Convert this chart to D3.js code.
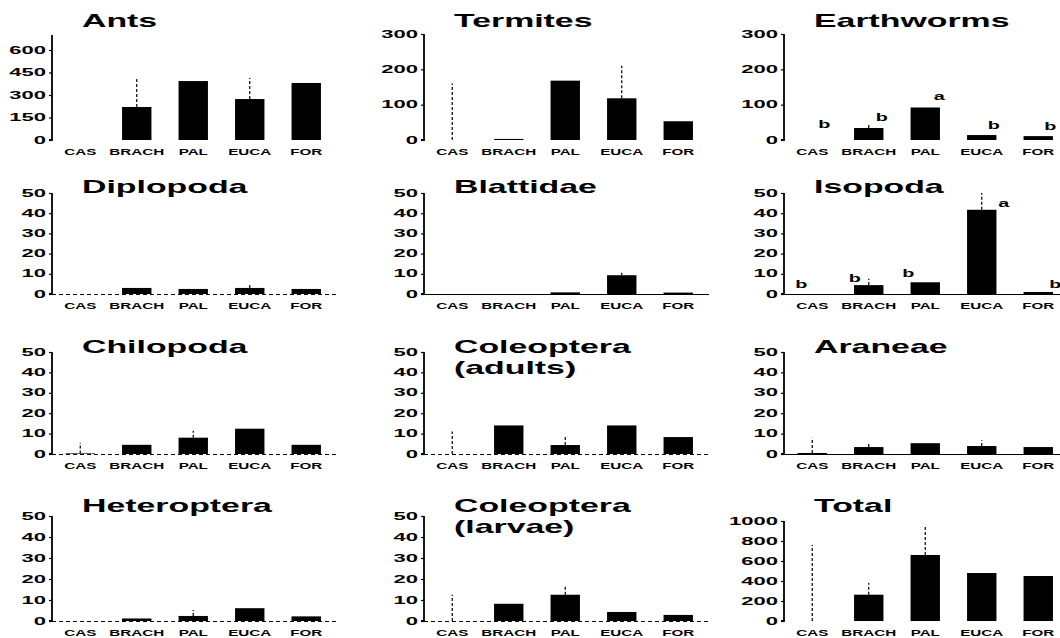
<!DOCTYPE html>
<html>
<head>
<meta charset="utf-8">
<script src="https://cdn.jsdelivr.net/npm/d3@7/dist/d3.min.js"></script>
<style>
  html, body { margin: 0; padding: 0; background: #fff; }
  svg { display: block; }
  text { font-family: "Liberation Sans", Arial, Helvetica, sans-serif; font-weight: bold; fill: #000; }
</style>
</head>
<body>
<svg id="chart" width="1060" height="638"></svg>
<script>
// ---------- DATA ----------
const categories = ["CAS", "BRACH", "PAL", "EUCA", "FOR"];

const panelTitles = [
  ["Ants"], ["Termites"], ["Earthworms"],
  ["Diplopoda"], ["Blattidae"], ["Isopoda"],
  ["Chilopoda"], ["Coleoptera", "(adults)"], ["Araneae"],
  ["Heteroptera"], ["Coleoptera", "(larvae)"], ["Total"]
];

const ticks0to50 = [0, 10, 20, 30, 40, 50];
const panelTicks = [
  [0, 150, 300, 450, 600], [0, 100, 200, 300], [0, 100, 200, 300],
  ticks0to50, ticks0to50, ticks0to50,
  ticks0to50, ticks0to50, ticks0to50,
  ticks0to50, ticks0to50, [0, 200, 400, 600, 800, 1000]
];
const panelMax = [700, 300, 300, 50, 50, 50, 50, 50, 50, 50, 50, 1000];

// mean abundance per land use (CAS, BRACH, PAL, EUCA, FOR)
const antsValues        = [0, 220, 393, 273, 380];
const termitesValues    = [0, 3, 168, 118, 53];
const earthwormsValues  = [0, 34, 92, 14, 11];
const diplopodaValues   = [0, 3, 2.5, 3, 2.5];
const blattidaeValues   = [0, 0, 0.8, 9.3, 0.7];
const isopodaValues     = [0, 4.4, 5.8, 41.7, 1];
const chilopodaValues   = [0.3, 4.5, 8, 12.4, 4.5];
const coleoAdultValues  = [0, 14, 4.4, 14, 8.3];
const araneaeValues     = [0.5, 3.4, 5.3, 3.9, 3.4];
const heteropteraValues = [0, 1.2, 2.4, 6.1, 2.2];
const coleoLarvaeValues = [0, 8.2, 12.5, 4.3, 2.9];
const totalValues       = [0, 263, 660, 480, 450];

// upper end of the error bars (null = none visible)
const antsErr        = [null, 407, null, 413, null];
const termitesErr    = [160, null, null, 210, null];
const earthwormsErr  = [null, 45, null, null, null];
const diplopodaErr   = [null, null, null, 5, null];
const blattidaeErr   = [null, null, null, 10.5, null];
const isopodaErr     = [null, 7.5, null, 50, null];
const chilopodaErr   = [5.5, null, 11.4, null, null];
const coleoAdultErr  = [11, null, 8.3, null, null];
const araneaeErr     = [8, 5, null, 6.8, null];
const heteropteraErr = [null, null, 5.2, null, null];
const coleoLarvaeErr = [12.5, null, 17, null, null];
const totalErr       = [760, 380, 960, null, null];

// significance letters
const earthwormsLetters = ["b", "b", "a", "b", "b"];
const isopodaLetters    = ["b", "b", "b", "a", "b"];

const panelValues = [antsValues, termitesValues, earthwormsValues, diplopodaValues,
  blattidaeValues, isopodaValues, chilopodaValues, coleoAdultValues, araneaeValues,
  heteropteraValues, coleoLarvaeValues, totalValues];
const panelErr = [antsErr, termitesErr, earthwormsErr, diplopodaErr, blattidaeErr,
  isopodaErr, chilopodaErr, coleoAdultErr, araneaeErr, heteropteraErr,
  coleoLarvaeErr, totalErr];
const panelLetters = [null, null, earthwormsLetters, null, null, isopodaLetters,
  null, null, null, null, null, null];

// ---------- LAYOUT ----------
const colAxisX = [52, 424, 784];
const rowZeroY = [140, 294, 454, 621];
const panelTopY = [35, 34, 34, 193, 193, 193, 352, 352, 352, 516, 516, 521];
const rowTitleY = [27, 193, 353, 512];
const baselineStyle = [null, null, null, "dot", "solid", "solid",
  "dot", "dot", "solid", "dot", "dot", null];
const letterDx = [null, null, [12, 13, 14, 12, 12], null, null, [-11, -14, -17, 22, 17]];
const letterDy = [null, null, [-12, -7, -7, -6, -6], null, null, [-6, -3, -5, -3, -4]];

const svg = d3.select("#chart");

function stretchedText(g, x, y, str, size, sx, anchor) {
  return g.append("text")
    .attr("transform", `translate(${x},${y}) scale(${sx},1)`)
    .attr("text-anchor", anchor)
    .style("font-size", size + "px")
    .text(str);
}

panelTitles.forEach((title, i) => {
  const row = Math.floor(i / 3), col = i % 3;
  const ax = colAxisX[col];
  const y0 = rowZeroY[row];
  const g = svg.append("g");

  const x = d3.scaleBand().domain(categories)
    .range([ax, ax + 282.5]).paddingInner(0.48).paddingOuter(0.24);
  const y = d3.scaleLinear().domain([0, panelMax[i]]).range([y0, panelTopY[i]]);

  // zero baseline
  if (baselineStyle[i]) {
    g.append("line")
      .attr("x1", ax).attr("x2", ax + 285)
      .attr("y1", y0 + 0.5).attr("y2", y0 + 0.5)
      .attr("stroke", "#000").attr("stroke-width", 1)
      .attr("stroke-dasharray", baselineStyle[i] === "dot" ? "4,3" : null);
  }

  // bars
  g.selectAll("rect.bar").data(panelValues[i]).join("rect")
    .attr("class", "bar")
    .attr("x", (d, k) => x(categories[k]))
    .attr("width", x.bandwidth())
    .attr("y", d => y(d))
    .attr("height", d => y0 - y(d))
    .attr("fill", "#000");

  // error bars
  panelErr[i].forEach((e, k) => {
    if (e == null) return;
    const cx = x(categories[k]) + x.bandwidth() / 2;
    g.append("line")
      .attr("x1", cx).attr("x2", cx)
      .attr("y1", y(panelValues[i][k])).attr("y2", y(e))
      .attr("stroke", "#000").attr("stroke-width", 1.2)
      .attr("stroke-dasharray", "3,2");
  });

  // y axis
  const yAxis = d3.axisLeft(y).tickValues(panelTicks[i]).tickSize(3).tickFormat("");
  const axG = g.append("g").attr("transform", `translate(${ax},0)`).call(yAxis);
  axG.select(".domain").attr("stroke-width", 1.8).attr("d", `M-3,${y0}H0V${panelTopY[i]}`);
  axG.selectAll(".tick line").attr("stroke-width", 1.2);
  panelTicks[i].forEach(t => {
    stretchedText(g, ax - 6, y(t) + 3.5, String(t), 10, 2.2, "end");
  });

  // category labels
  categories.forEach(c => {
    stretchedText(g, x(c) + x.bandwidth() / 2, y0 + 15, c, 9.5, 1.6, "middle");
  });

  // significance letters
  if (panelLetters[i]) {
    panelLetters[i].forEach((L, k) => {
      const cx = x(categories[k]) + x.bandwidth() / 2 + letterDx[i][k];
      stretchedText(g, cx, y(panelValues[i][k]) + letterDy[i][k], L, 11, 1.8, "middle");
    });
  }

  // title
  title.forEach((line, li) => {
    stretchedText(g, ax + 30, rowTitleY[row] + li * 21, line, 18, 1.88, "start");
  });
});
</script>
</body>
</html>
